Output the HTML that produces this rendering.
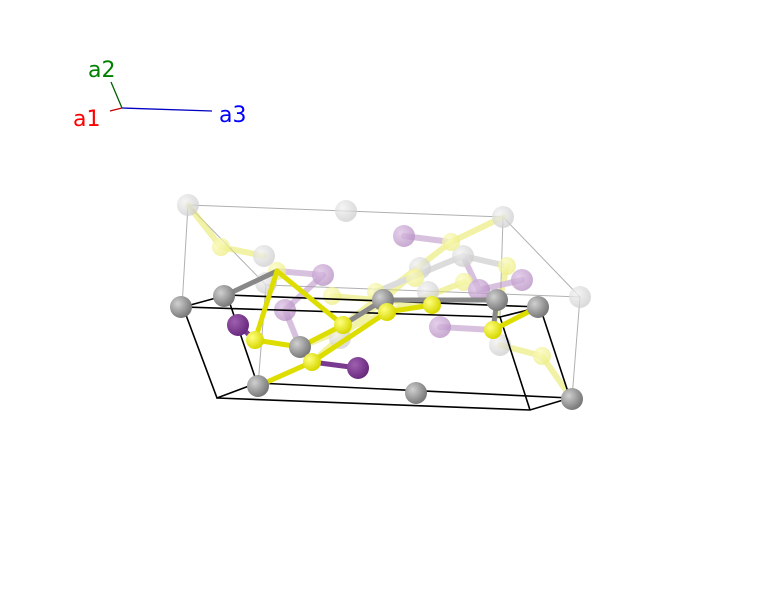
<!DOCTYPE html>
<html><head><meta charset="utf-8"><style>
html,body{margin:0;padding:0;background:#fff;width:763px;height:605px;overflow:hidden}
text{font-family:"DejaVu Sans","Liberation Sans",sans-serif;font-size:22px}
</style></head><body>
<svg width="763" height="605" viewBox="0 0 763 605" xmlns="http://www.w3.org/2000/svg">
<defs>
<radialGradient id="g" cx="35%" cy="35%" r="65%"><stop offset="0" stop-color="#d0d0d0"/><stop offset="1" stop-color="#7a7a7a"/></radialGradient>
<radialGradient id="gt" cx="35%" cy="35%" r="65%"><stop offset="0" stop-color="#f2f2f2"/><stop offset="1" stop-color="#cfcfcf"/></radialGradient>
<radialGradient id="y" cx="35%" cy="35%" r="65%"><stop offset="0" stop-color="#ffff80"/><stop offset="1" stop-color="#d8d800"/></radialGradient>
<radialGradient id="yt" cx="35%" cy="35%" r="65%"><stop offset="0" stop-color="#fcfcc0"/><stop offset="1" stop-color="#eeee88"/></radialGradient>
<radialGradient id="p" cx="35%" cy="35%" r="65%"><stop offset="0" stop-color="#a060b0"/><stop offset="1" stop-color="#6a2a80"/></radialGradient>
<radialGradient id="pt" cx="35%" cy="35%" r="65%"><stop offset="0" stop-color="#dcc0e4"/><stop offset="1" stop-color="#b890c4"/></radialGradient>
</defs>
<line x1="122" y1="108" x2="212" y2="111" stroke="#0000c0" stroke-width="1.3"/>
<line x1="122" y1="108" x2="111" y2="82" stroke="#006000" stroke-width="1.3"/>
<line x1="122" y1="108" x2="110" y2="111" stroke="#c00000" stroke-width="1.3"/>
<text x="88" y="77" fill="#008000">a2</text>
<text x="73" y="126" fill="#ff0000">a1</text>
<text x="219" y="122" fill="#0000ff">a3</text>
<g stroke="#b0b0b0" stroke-width="1" fill="none">
<polyline points="188,205 503,217 580,297 266,285 188,205"/>
<line x1="188" y1="205" x2="182" y2="307"/>
<line x1="503" y1="217" x2="500" y2="317"/>
<line x1="580" y1="297" x2="572" y2="398"/>
<line x1="266" y1="285" x2="258" y2="386"/>
</g>
<g stroke-width="6" stroke-linecap="round" opacity="0.55">
<line x1="188" y1="205" x2="221" y2="247" stroke="#e8e860"/>
<line x1="221" y1="247" x2="264" y2="256" stroke="#e8e860"/>
<line x1="404" y1="236" x2="451" y2="242" stroke="#b890c4"/>
<line x1="451" y1="242" x2="503" y2="217" stroke="#e8e860"/>
<line x1="451" y1="242" x2="343" y2="325" stroke="#e8e860"/>
<line x1="463" y1="256" x2="507" y2="266" stroke="#c0c0c0"/>
<line x1="420" y1="268" x2="312" y2="362" stroke="#e8e860"/>
<line x1="464" y1="282" x2="300" y2="347" stroke="#e8e860"/>
<line x1="507" y1="266" x2="493" y2="330" stroke="#e8e860"/>
<line x1="440" y1="327" x2="493" y2="330" stroke="#b890c4"/>
<line x1="500" y1="345" x2="542" y2="356" stroke="#e8e860"/>
<line x1="542" y1="356" x2="572" y2="399" stroke="#e8e860"/>
<line x1="277" y1="271" x2="323" y2="275" stroke="#b890c4"/>
<line x1="285" y1="310" x2="300" y2="347" stroke="#b890c4"/>
<line x1="463" y1="256" x2="479" y2="290" stroke="#b890c4"/>
<line x1="479" y1="290" x2="522" y2="280" stroke="#b890c4"/>
<line x1="323" y1="275" x2="285" y2="310" stroke="#b890c4"/>
<line x1="332" y1="296" x2="432" y2="305" stroke="#e8e860"/>
<line x1="376" y1="292" x2="463" y2="256" stroke="#c0c0c0"/>
</g>
<g opacity="0.75">
<circle cx="188" cy="205" r="11" fill="url(#gt)"/><circle cx="346" cy="211" r="11" fill="url(#gt)"/><circle cx="503" cy="217" r="11" fill="url(#gt)"/><circle cx="580" cy="297" r="11" fill="url(#gt)"/>
<circle cx="264" cy="256" r="11" fill="url(#gt)"/><circle cx="266" cy="283" r="11" fill="url(#gt)"/><circle cx="420" cy="268" r="11" fill="url(#gt)"/><circle cx="463" cy="256" r="11" fill="url(#gt)"/>
<circle cx="500" cy="345" r="11" fill="url(#gt)"/><circle cx="340" cy="338" r="11" fill="url(#gt)"/><circle cx="428" cy="292" r="11" fill="url(#gt)"/>
<circle cx="221" cy="247" r="9" fill="url(#yt)"/><circle cx="451" cy="242" r="9" fill="url(#yt)"/><circle cx="507" cy="266" r="9" fill="url(#yt)"/><circle cx="542" cy="356" r="9" fill="url(#yt)"/>
<circle cx="376" cy="292" r="9" fill="url(#yt)"/><circle cx="332" cy="296" r="9" fill="url(#yt)"/><circle cx="415" cy="278" r="9" fill="url(#yt)"/><circle cx="464" cy="282" r="9" fill="url(#yt)"/><circle cx="277" cy="271" r="9" fill="url(#yt)"/>
<circle cx="404" cy="236" r="11" fill="url(#pt)"/><circle cx="323" cy="275" r="11" fill="url(#pt)"/><circle cx="285" cy="310" r="11" fill="url(#pt)"/><circle cx="440" cy="327" r="11" fill="url(#pt)"/><circle cx="479" cy="290" r="11" fill="url(#pt)"/><circle cx="522" cy="280" r="11" fill="url(#pt)"/>
</g>
<g stroke="#000" stroke-width="1.6" fill="none">
<polyline points="183,307 227,295 540,307 500,317 183,307 217,398 257,383 227,295"/>
<polyline points="217,398 530,410 570,398 540,307"/>
<line x1="257" y1="383" x2="570" y2="398"/>
<line x1="500" y1="317" x2="530" y2="410"/>
</g>
<g stroke-width="5" stroke-linecap="round">
<line x1="224" y1="296" x2="277" y2="271" stroke="#888"/>
<line x1="277" y1="271" x2="255" y2="340" stroke="#dddd00"/>
<line x1="255" y1="340" x2="238" y2="325" stroke="#7a3a90"/>
<line x1="255" y1="340" x2="300" y2="347" stroke="#dddd00"/>
<line x1="300" y1="347" x2="312" y2="362" stroke="#888"/>
<line x1="312" y1="362" x2="258" y2="386" stroke="#dddd00"/>
<line x1="312" y1="362" x2="358" y2="368" stroke="#7a3a90"/>
<line x1="312" y1="362" x2="387" y2="312" stroke="#dddd00"/>
<line x1="343" y1="325" x2="383" y2="300" stroke="#888"/>
<line x1="343" y1="325" x2="300" y2="347" stroke="#dddd00"/>
<line x1="387" y1="312" x2="432" y2="305" stroke="#dddd00"/>
<line x1="383" y1="300" x2="497" y2="300" stroke="#888"/>
<line x1="493" y1="330" x2="538" y2="307" stroke="#dddd00"/>
<line x1="497" y1="300" x2="493" y2="330" stroke="#888"/>
<line x1="277" y1="271" x2="343" y2="325" stroke="#dddd00"/>
</g>
<circle cx="181" cy="307" r="11" fill="url(#g)"/><circle cx="224" cy="296" r="11" fill="url(#g)"/><circle cx="258" cy="386" r="11" fill="url(#g)"/><circle cx="416" cy="393" r="11" fill="url(#g)"/>
<circle cx="572" cy="399" r="11" fill="url(#g)"/><circle cx="538" cy="307" r="11" fill="url(#g)"/><circle cx="300" cy="347" r="11" fill="url(#g)"/><circle cx="383" cy="300" r="11" fill="url(#g)"/><circle cx="497" cy="300" r="11" fill="url(#g)"/>
<circle cx="238" cy="325" r="11" fill="url(#p)"/><circle cx="358" cy="368" r="11" fill="url(#p)"/>
<circle cx="255" cy="340" r="9" fill="url(#y)"/><circle cx="312" cy="362" r="9" fill="url(#y)"/><circle cx="343" cy="325" r="9" fill="url(#y)"/><circle cx="387" cy="312" r="9" fill="url(#y)"/><circle cx="493" cy="330" r="9" fill="url(#y)"/><circle cx="432" cy="305" r="9" fill="url(#y)"/>
</svg>
</body></html>
